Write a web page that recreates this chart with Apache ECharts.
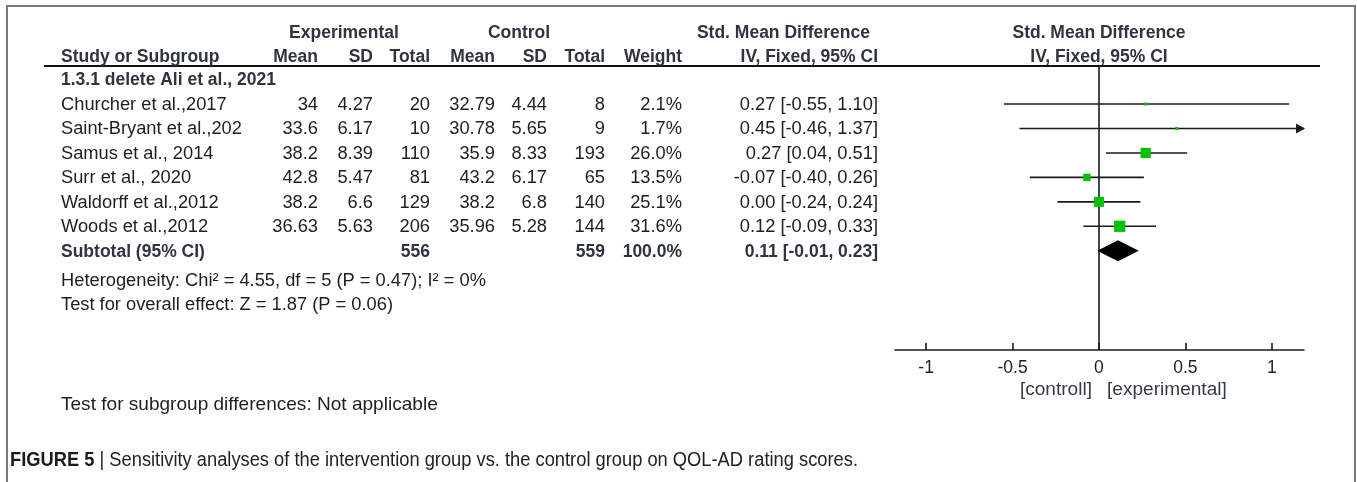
<!DOCTYPE html>
<html>
<head>
<meta charset="utf-8">
<script src="https://cdn.jsdelivr.net/npm/echarts@6/dist/echarts.min.js"></script>
<style>
  html, body { margin: 0; padding: 0; background: #ffffff; }
  #chart { width: 1357px; height: 482px; }
</style>
</head>
<body>
<div id="chart"></div>
<script>
// ---- study data ----
const subgroupTitle = '1.3.1 delete Ali et al., 2021';
const studies = ['Churcher et al.,2017', 'Saint-Bryant et al.,202', 'Samus et al., 2014',
                 'Surr et al., 2020', 'Waldorff et al.,2012', 'Woods et al.,2012'];
const expMean  = [34, 33.6, 38.2, 42.8, 38.2, 36.63];
const expSD    = [4.27, 6.17, 8.39, 5.47, 6.6, 5.63];
const expTotal = [20, 10, 110, 81, 129, 206];
const ctlMean  = [32.79, 30.78, 35.9, 43.2, 38.2, 35.96];
const ctlSD    = [4.44, 5.65, 8.33, 6.17, 6.8, 5.28];
const ctlTotal = [8, 9, 193, 65, 140, 144];
const weights  = [2.1, 1.7, 26.0, 13.5, 25.1, 31.6];
const smd      = [0.27, 0.45, 0.27, -0.07, 0.00, 0.12];
const ciLow    = [-0.55, -0.46, 0.04, -0.40, -0.24, -0.09];
const ciHigh   = [1.10, 1.37, 0.51, 0.26, 0.24, 0.33];

// pooled (subtotal) result
const subtotalExp = 556;
const subtotalCtl = 559;
const subtotalWeight = 100.0;
const pooled = [0.11, -0.01, 0.23];   // estimate, lower, upper

const heterogeneityText = 'Heterogeneity: Chi\u00b2 = 4.55, df = 5 (P = 0.47); I\u00b2 = 0%';
const overallText = 'Test for overall effect: Z = 1.87 (P = 0.06)';
const subgroupDiffText = 'Test for subgroup differences: Not applicable';
const captionBold = 'FIGURE 5';
const captionText = '| Sensitivity analyses of the intervention group vs. the control group on QOL-AD rating scores.';

const tickValues = [-1, -0.5, 0, 0.5, 1];
const tickLabels = ['-1', '-0.5', '0', '0.5', '1'];
const favoursLeft = '[controll]';
const favoursRight = '[experimental]';

// ---- layout ----
const X_MIN = -1.18, X_MAX = 1.186;
const Y_MIN = -0.556, Y_MAX = 11.06;
const FONT = '"Liberation Sans", Arial, sans-serif';
const FS = 17.5;
const SX = 1.045;          // slight horizontal stretch of regular-weight table text
const TXT = '#1e1e1e';
const HEAD = '#2e3440';
const GREEN = '#00c200';
const LINE = '#1a1a1a';

const chart = echarts.init(document.getElementById('chart'), null, { renderer: 'canvas' });

const studyRows = studies.map((_, i) => i + 1);
const subtotalRow = studies.length + 1;

const ciData = studies.map((_, i) => [ciLow[i], ciHigh[i], studyRows[i]]);
const squareData = studies.map((_, i) => [smd[i], studyRows[i], weights[i]]);
const diamondData = [[pooled[0], pooled[1], pooled[2], subtotalRow]];

function renderCI(params, api) {
  const lo = api.value(0), hi = api.value(1), row = api.value(2);
  const p1 = api.coord([Math.max(lo, X_MIN), row]);
  const p2 = api.coord([Math.min(hi, X_MAX), row]);
  const children = [{
    type: 'line',
    shape: { x1: p1[0], y1: p1[1], x2: p2[0], y2: p2[1] },
    style: { stroke: LINE, lineWidth: 1.6 }
  }];
  if (hi > X_MAX) {
    children.push({ type: 'polygon',
      shape: { points: [[p2[0] + 1, p2[1]], [p2[0] - 8, p2[1] - 5], [p2[0] - 8, p2[1] + 5]] },
      style: { fill: LINE } });
  }
  if (lo < X_MIN) {
    children.push({ type: 'polygon',
      shape: { points: [[p1[0] - 1, p1[1]], [p1[0] + 8, p1[1] - 5], [p1[0] + 8, p1[1] + 5]] },
      style: { fill: LINE } });
  }
  return { type: 'group', children };
}

// square area proportional to study weight
function renderSquare(params, api) {
  const c = api.coord([api.value(0), api.value(1)]);
  const s = Math.max(3, 2.0 * Math.sqrt(api.value(2)));
  return { type: 'rect', shape: { x: c[0] - s / 2, y: c[1] - s / 2, width: s, height: s },
           style: { fill: GREEN } };
}

function renderDiamond(params, api) {
  const row = api.value(3);
  const mid = api.coord([api.value(0), row]);
  const left = api.coord([api.value(1), row]);
  const right = api.coord([api.value(2), row]);
  const h = 10.5;
  return { type: 'polygon',
    shape: { points: [[left[0], mid[1]], [mid[0], mid[1] - h], [right[0], mid[1]], [mid[0], mid[1] + h]] },
    style: { fill: '#000000' } };
}

chart.setOption({
  animation: false,
  backgroundColor: '#ffffff',
  grid: { left: 895, top: 66, width: 409, height: 284 },
  xAxis: {
    type: 'value', min: X_MIN, max: X_MAX,
    axisLine: { show: true, onZero: false, lineStyle: { color: LINE, width: 1.6 } },
    axisTick: { show: true, inside: true, length: 7, customValues: tickValues,
                lineStyle: { color: LINE, width: 1.6 } },
    axisLabel: { show: true, customValues: tickValues, margin: 9,
                 formatter: v => tickLabels[tickValues.indexOf(v)],
                 fontFamily: FONT, fontSize: 17.5, color: TXT },
    splitLine: { show: false }
  },
  yAxis: {
    type: 'value', inverse: true, min: Y_MIN, max: Y_MAX, show: false,
    splitLine: { show: false }
  },
  series: [
    { type: 'line', data: [[0, Y_MIN], [0, Y_MAX]], symbol: 'none', silent: true,
      lineStyle: { color: LINE, width: 1.6 }, z: 1 },
    { type: 'custom', renderItem: renderCI, data: ciData, z: 2 },
    { type: 'custom', renderItem: renderSquare, data: squareData, z: 3 },
    { type: 'custom', renderItem: renderDiamond, data: diamondData, z: 3 }
  ]
});

// ---- table text, aligned to the plot's row scale ----
const rowY = r => chart.convertToPixel({ yAxisIndex: 0 }, r) + 1;

function txt(x, y, text, opt) {
  opt = opt || {};
  return {
    type: 'text', x: x, y: y, silent: true,
    scaleX: opt.sx || (opt.bold ? 1 : SX),
    style: {
      text: text, align: opt.align || 'left', verticalAlign: 'middle',
      font: (opt.bold ? 'bold ' : '') + (opt.size || FS) + 'px ' + (opt.family || FONT),
      fill: opt.color || (opt.bold ? HEAD : TXT)
    }
  };
}

const fmtCI = (e, l, h) => e.toFixed(2) + ' [' + l.toFixed(2) + ', ' + h.toFixed(2) + ']';

const g = [];
// frame and header rule
g.push({ type: 'rect', shape: { x: 7, y: 6, width: 1348, height: 560 }, silent: true,
         style: { fill: null, stroke: '#7a7a7a', lineWidth: 2 } });
g.push({ type: 'line', shape: { x1: 44, y1: 66, x2: 1320, y2: 66 }, silent: true,
         style: { stroke: '#111111', lineWidth: 2 } });

// column headers
const H1 = 33, H2 = 57;
g.push(txt(344, H1, 'Experimental', { bold: true, align: 'center' }));
g.push(txt(519, H1, 'Control', { bold: true, align: 'center' }));
g.push(txt(870, H1, 'Std. Mean Difference', { bold: true, align: 'right' }));
g.push(txt(1099, H1, 'Std. Mean Difference', { bold: true, align: 'center' }));
g.push(txt(61, H2, 'Study or Subgroup', { bold: true }));
const colX = { em: 318, esd: 373, et: 430, cm: 495, csd: 547, ct: 605, w: 682, ci: 878 };
g.push(txt(colX.em, H2, 'Mean', { bold: true, align: 'right' }));
g.push(txt(colX.esd, H2, 'SD', { bold: true, align: 'right' }));
g.push(txt(colX.et, H2, 'Total', { bold: true, align: 'right' }));
g.push(txt(colX.cm, H2, 'Mean', { bold: true, align: 'right' }));
g.push(txt(colX.csd, H2, 'SD', { bold: true, align: 'right' }));
g.push(txt(colX.ct, H2, 'Total', { bold: true, align: 'right' }));
g.push(txt(colX.w, H2, 'Weight', { bold: true, align: 'right' }));
g.push(txt(colX.ci, H2, 'IV, Fixed, 95% CI', { bold: true, align: 'right' }));
g.push(txt(1099, H2, 'IV, Fixed, 95% CI', { bold: true, align: 'center' }));

// subgroup title
g.push(txt(61, rowY(0), subgroupTitle, { bold: true }));

// study rows
studies.forEach((name, i) => {
  const y = rowY(studyRows[i]);
  g.push(txt(61, y, name));
  g.push(txt(colX.em, y, String(expMean[i]), { align: 'right' }));
  g.push(txt(colX.esd, y, String(expSD[i]), { align: 'right' }));
  g.push(txt(colX.et, y, String(expTotal[i]), { align: 'right' }));
  g.push(txt(colX.cm, y, String(ctlMean[i]), { align: 'right' }));
  g.push(txt(colX.csd, y, String(ctlSD[i]), { align: 'right' }));
  g.push(txt(colX.ct, y, String(ctlTotal[i]), { align: 'right' }));
  g.push(txt(colX.w, y, weights[i].toFixed(1) + '%', { align: 'right' }));
  g.push(txt(colX.ci, y, fmtCI(smd[i], ciLow[i], ciHigh[i]), { align: 'right' }));
});

// subtotal row
const ys = rowY(subtotalRow);
g.push(txt(61, ys, 'Subtotal (95% CI)', { bold: true }));
g.push(txt(colX.et, ys, String(subtotalExp), { bold: true, align: 'right' }));
g.push(txt(colX.ct, ys, String(subtotalCtl), { bold: true, align: 'right' }));
g.push(txt(colX.w, ys, subtotalWeight.toFixed(1) + '%', { bold: true, align: 'right' }));
g.push(txt(colX.ci, ys, fmtCI(pooled[0], pooled[1], pooled[2]), { bold: true, align: 'right' }));

// footnotes
g.push(txt(61, 281, heterogeneityText));
g.push(txt(61, 305, overallText));
g.push(txt(61, 405, subgroupDiffText, { size: 18.5, sx: 1.03 }));

// favours labels under the axis
g.push(txt(1092, 390, favoursLeft, { align: 'right', size: 17.5, sx: 1.09, color: '#333a48' }));
g.push(txt(1107, 390, favoursRight, { align: 'left', size: 17.5, sx: 1.09, color: '#333a48' }));

// caption (narrowed sans)
g.push({
  type: 'text', x: 10, y: 460, silent: true, scaleX: 0.915,
  style: {
    text: '{b|' + captionBold + ' }{n|' + captionText + '}',
    verticalAlign: 'middle', align: 'left',
    rich: {
      b: { fontFamily: FONT, fontWeight: 'bold', fontSize: 20, fill: '#1a1a1a' },
      n: { fontFamily: FONT, fontSize: 20, fill: '#222222' }
    }
  }
});

chart.setOption({ graphic: { elements: g } });
</script>
</body>
</html>
